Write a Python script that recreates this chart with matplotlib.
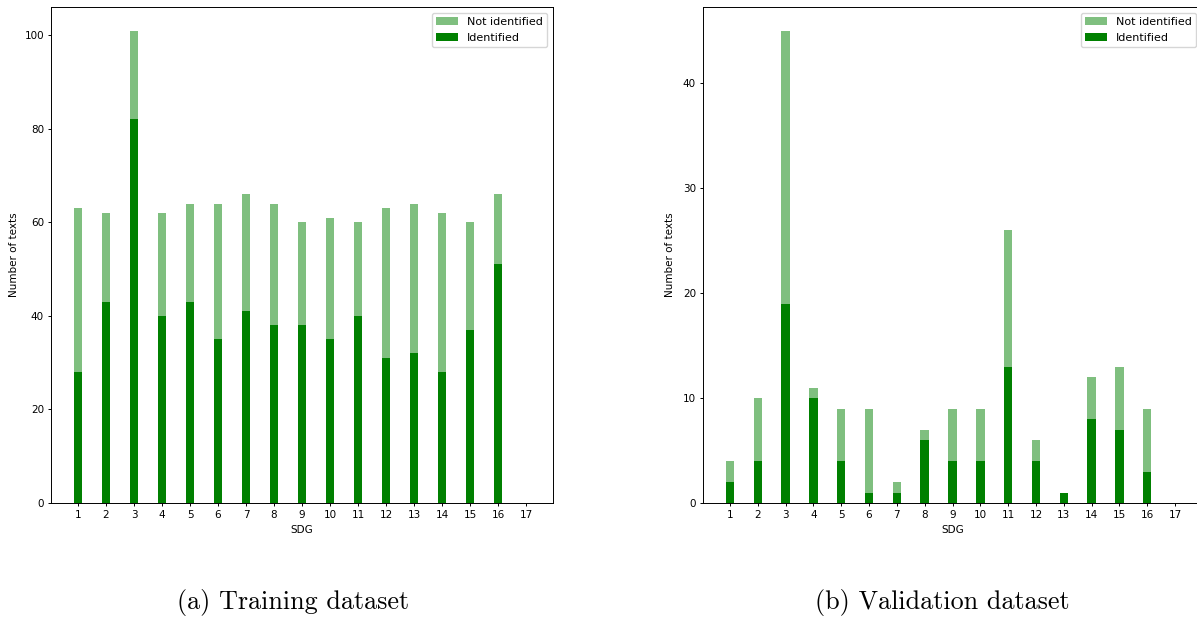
import numpy as np
import matplotlib
matplotlib.use('Agg')
from matplotlib import pyplot as plt

sdg = list(range(1, 18))

train_total = [63, 62, 101, 62, 64, 64, 66, 64, 60, 61, 60, 63, 64, 62, 60, 66, 0]
train_ident = [28, 43, 82, 40, 43, 35, 41, 38, 38, 35, 40, 31, 32, 28, 37, 51, 0]

valid_total = [4, 10, 45, 11, 9, 9, 2, 7, 9, 9, 26, 6, 1, 12, 13, 9, 0]
valid_ident = [2, 4, 19, 10, 4, 1, 1, 6, 4, 4, 13, 4, 1, 8, 7, 3, 0]

captions = ['(a) Training dataset', '(b) Validation dataset']

W, H = 1197, 621
fig = plt.figure(figsize=(W / 100, H / 100), dpi=100)

# axes boxes in pixels: left, right, top, bottom
boxes = [(51, 553, 7, 503), (703, 1202, 7, 503)]
data = [(train_total, train_ident), (valid_total, valid_ident)]
cap_x = [293.5, 942]
ylab_x = [19, 675]

for i, ((x0, x1, y0, y1), (tot, ide), cap) in enumerate(zip(boxes, data, captions)):
    ax = fig.add_axes([x0 / W, 1 - y1 / H, (x1 - x0) / W, (y1 - y0) / H])
    ax.bar(sdg, tot, width=0.3, color='green', alpha=0.5, label='Not identified')
    ax.bar(sdg, ide, width=0.3, color='green', label='Identified')
    ax.set_xticks(sdg)
    ax.tick_params(labelsize=7.5, length=2.5, pad=2.5, width=0.7)
    for s in ax.spines.values():
        s.set_linewidth(0.7)
    ax.set_xlabel('SDG', fontsize=7.5)
    ax.set_ylabel('Number of texts', fontsize=7.5)
    ax.xaxis.set_label_coords(0.5, -(525 - y1) / (y1 - y0))
    ax.yaxis.set_label_coords((ylab_x[i] - x0) / (x1 - x0), 0.5)
    ax.legend(loc='upper right', fontsize=8)
    fig.text(cap_x[i] / W, 1 - 603 / H, cap, fontfamily='cmr10',
             fontsize=18.8, ha='center', va='center')

fig.savefig('out.png', dpi=100)
